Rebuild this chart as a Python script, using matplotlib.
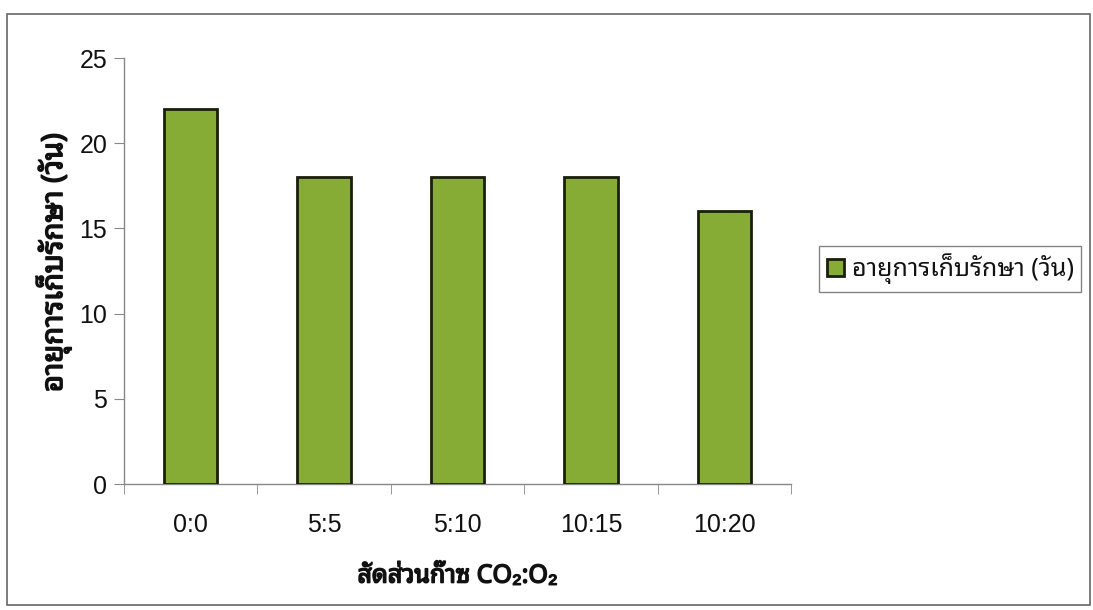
import matplotlib
matplotlib.use("Agg")
import matplotlib.pyplot as plt
from matplotlib.patches import Rectangle
import matplotlib.patheffects as pe

# Shelf life (days) for each CO2:O2 gas ratio
categories = ["0:0", "5:5", "5:10", "10:15", "10:20"]
shelf_life = [22, 18, 18, 18, 16]
yticks = [0, 5, 10, 15, 20, 25]
series_name = "อายุการเก็บรักษา (วัน)"
ylabel = "อายุการเก็บรักษา (วัน)"
xlabel = "สัดส่วนก๊าซ CO₂:O₂"

THAI = ["Noto Sans Thai Looped", "Liberation Sans", "DejaVu Sans"]
LATIN = ["Liberation Sans", "DejaVu Sans"]
plt.rcParams["font.family"] = LATIN

TEXT = "#111111"
# Thicker strokes for the bold axis titles
bold_fx = [pe.withStroke(linewidth=1.1, foreground=TEXT)]

W, H = 1093, 610
fig = plt.figure(figsize=(W / 100, H / 100), dpi=100)
fig.patch.set_facecolor("white")

# Chart-area frame
fig.patches.append(Rectangle((7 / W, 1 - 605 / H), (1090 - 7) / W, (605 - 14) / H,
                             transform=fig.transFigure, fill=False,
                             edgecolor="#666666", linewidth=1.2))

ax = fig.add_axes([124 / W, 1 - 484 / H, (791 - 124) / W, (484 - 58) / H])
x = list(range(len(categories)))
ax.bar(x, shelf_life, width=0.40, color="#86ac35", edgecolor="#1a1f0a",
       linewidth=2.0, label=series_name, zorder=3)

ax.set_xlim(-0.5, len(categories) - 0.5)
ax.set_ylim(0, 25)
ax.set_yticks(yticks)
ax.set_xticks(x)
ax.set_xticklabels(categories)
ax.set_xticks([i - 0.5 for i in range(len(categories) + 1)], minor=True)

for s in ("top", "right"):
    ax.spines[s].set_visible(False)
for s in ("left", "bottom"):
    ax.spines[s].set_color("#888888")
    ax.spines[s].set_linewidth(1.0)

ax.tick_params(axis="y", direction="out", length=7, color="#888888",
               labelsize=18, pad=5, labelcolor=TEXT)
ax.tick_params(axis="x", which="major", length=0, labelsize=18, pad=21,
               labelcolor=TEXT)
ax.tick_params(axis="x", which="minor", direction="out", length=7,
               color="#888888")

yl = ax.set_ylabel(ylabel, family=THAI, fontsize=21, color=TEXT, labelpad=6)
yl.set_y(0.52)
xl = ax.set_xlabel(xlabel, family=THAI, fontsize=18, color=TEXT, labelpad=19)
yl.set_path_effects(bold_fx)
xl.set_path_effects(bold_fx)

leg = fig.legend(loc="center left", bbox_to_anchor=(819 / W, 1 - 269 / H),
                 bbox_transform=fig.transFigure, frameon=True, fancybox=False,
                 edgecolor="#666666", handlelength=0.7, handleheight=0.7,
                 handletextpad=0.3, borderpad=0.3, borderaxespad=0,
                 prop={"family": THAI, "size": 18})
leg.get_frame().set_linewidth(1.0)
for t in leg.get_texts():
    t.set_color(TEXT)

fig.savefig("out.png", dpi=100)
